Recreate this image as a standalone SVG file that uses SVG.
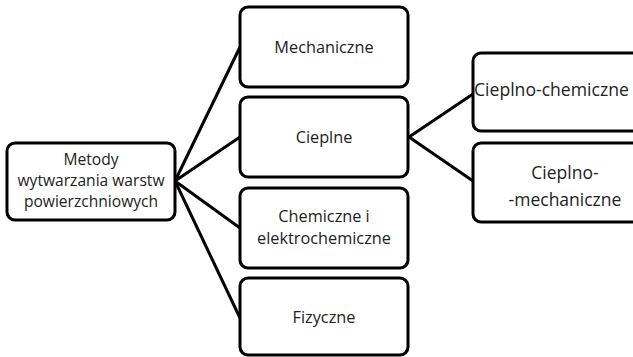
<svg xmlns="http://www.w3.org/2000/svg" width="633" height="357" viewBox="0 0 633 357">
<style>
.box{fill:#fff;stroke:#000;stroke-width:3}
.t{font-family:"Open Sans","Liberation Sans",sans-serif;font-size:16.3px;fill:#222;text-anchor:middle}
.tr{font-size:15.6px}
.tl{font-size:17.5px}
.c{stroke:#000;stroke-width:3;fill:none}
</style>
<rect width="633" height="357" fill="#fff"/>
<g id="connectors">
<path class="c" d="M175,181 L240,47 M175,181 L240,137 M175,181 L240,228 M175,181 L240,318"/>
<path class="c" d="M409,137 L473,94 M409,137 L473,181"/>
</g>
<g id="root">
<rect class="box" x="7" y="143" width="168" height="77" rx="8"/>
<text class="t tr" x="91" y="165">Metody</text>
<text class="t tr" x="91" y="186">wytwarzania warstw</text>
<text class="t tr" x="91" y="207">powierzchniowych</text>
</g>
<g id="mech">
<rect class="box" x="240" y="7" width="168" height="80" rx="8"/>
<text class="t" x="324" y="53">Mechaniczne</text>
</g>
<g id="ciep">
<rect class="box" x="240" y="97" width="168" height="80" rx="8"/>
<text class="t" x="324" y="143">Cieplne</text>
</g>
<g id="chem">
<rect class="box" x="240" y="188" width="168" height="80" rx="8"/>
<text class="t" x="324" y="222">Chemiczne i</text>
<text class="t" x="324" y="244">elektrochemiczne</text>
</g>
<g id="fiz">
<rect class="box" x="240" y="278" width="168" height="77" rx="8"/>
<text class="t" x="324" y="323">Fizyczne</text>
</g>
<g id="cchem">
<rect class="box" x="473" y="53" width="175" height="78" rx="8"/>
<text class="t" x="474" y="96" style="text-anchor:start;font-size:17.6px">Cieplno-chemiczne</text>
</g>
<g id="cmech">
<rect class="box" x="473" y="143" width="175" height="79" rx="8"/>
<text class="t tl" x="565" y="179">Cieplno-</text>
<text class="t tl" x="565" y="206">-mechaniczne</text>
</g>
</svg>
